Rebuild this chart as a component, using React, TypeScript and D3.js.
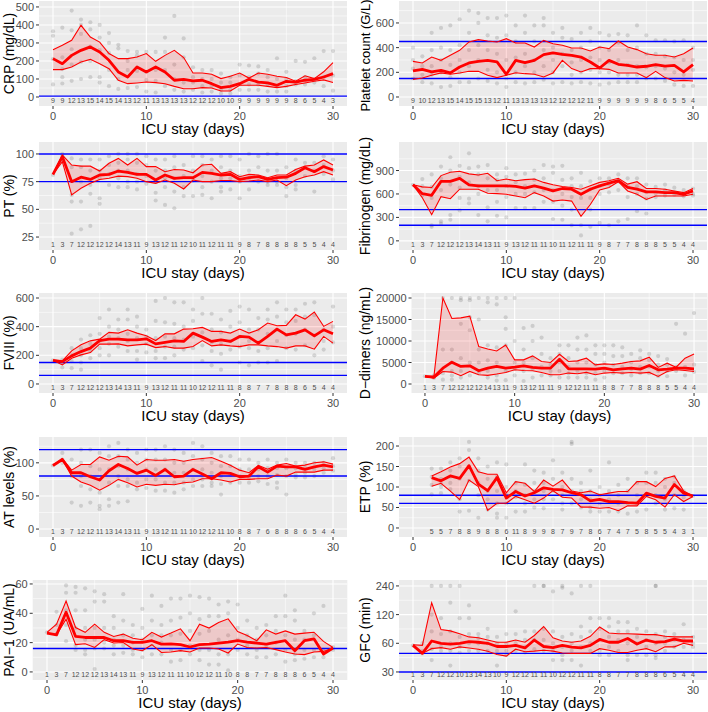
import React from 'react';
import * as d3 from 'd3';

const days = [0,1,2,3,4,5,6,7,8,9,10,11,12,13,14,15,16,17,18,19,20,21,22,23,24,25,26,27,28,29,30];
const xTicks = [0, 10, 20, 30];
const xMinor = [5, 15, 25];

// ---------- CRP ----------
const crpMedian = [213,185,231,259,278,250,204,139,111,167,139,167,139,93,98,89,93,74,52,59,74,98,83,78,65,87,83,93,98,111,130];
const crpUpper = [263,287,315,398,333,305,241,213,213,222,241,198,231,259,219,133,133,126,102,115,133,105,133,126,115,108,88,118,102,140,191];
const crpLower = [152,152,167,194,209,185,157,93,74,78,83,80,74,59,46,46,52,50,33,33,65,65,65,59,52,59,69,78,87,95,80];
const crpCounts = [9,9,12,13,15,14,15,14,13,12,11,13,13,13,13,12,12,12,10,10,9,9,9,9,9,9,8,6,5,4,3];
const crpPoints = [[365,340,210,70],[385,220,155,110,75],[480,370,265,180,90],[430,400,350,195,100],[415,375,280,200,110],[400,330,260,110,80],[355,300,245,150,60],[290,270,100,45],[255,200,150,50],[250,230,145,55],[250,140,95,30],[250,150,90,25],[330,250,150,60],[450,180,100,40],[325,220,80,30],[165,110,80,40],[150,100,60,25],[150,100,60,30],[130,80,40,20],[110,80,40,20],[180,120,70,40],[175,110,70,40],[170,130,70,40],[150,110,70,30],[215,100,60,30],[140,100,60,30],[200,90,70],[195,110,70],[215,100,80],[255,110,60],[255,120,35]];
const crpRefs = [5];
const crpTicks = [0,100,200,300,400,500];

// ---------- Platelets ----------
const pltMedian = [211,224,203,216,195,243,276,289,297,284,184,297,278,297,343,357,346,338,324,284,235,297,265,257,243,249,262,251,257,203,262];
const pltUpper = [289,276,324,297,338,378,446,465,454,446,473,438,438,405,459,432,419,397,397,373,405,392,454,405,384,351,338,338,324,351,397];
const pltLower = [143,154,176,195,184,195,208,208,176,157,176,197,189,184,162,195,297,230,203,230,230,224,195,195,195,157,208,157,130,135,130];
const pltCounts = [9,10,12,13,15,14,15,15,13,12,11,13,13,13,13,12,12,12,12,11,9,9,9,9,9,9,8,6,5,5,4];
const pltPoints = [[400,300,230,150],[330,250,180,120],[520,380,250,180,110],[560,400,300,200,80],[580,380,260,160,90],[630,420,300,200,120],[700,520,380,250,120],[680,600,420,300,150],[640,500,380,220,130],[640,480,350,200,110],[660,500,300,150,80],[580,450,320,200,120],[660,520,350,250,110],[580,450,300,200,120],[640,580,380,250,140],[520,400,300,200,110],[560,480,350,250,120],[470,380,280,180,110],[520,400,300,200,120],[560,450,320,220,110],[520,400,300,200,100],[500,380,280,200,110],[510,440,300,180,120],[500,380,260,180,120],[580,400,250,180,120],[500,350,240,150],[460,350,250,150],[460,330,230,130],[450,320,200,100],[460,300,180,90],[400,300,220,90]];
const pltRefs = [150, 450];
const pltTicks = [0,200,400,600];

// ---------- PT ----------
const ptMedian = [81.6,97.6,75,79,77,81,81.6,84.6,83.4,81.6,81.6,76.5,81,78,78.6,78.6,83.4,82.5,81,81.6,77,78.6,79.5,77,78.6,79,82.5,87.6,84,88.6,85.5];
const ptUpper = [81.6,99,90,89,89,84.6,91.6,96,90,96,88.6,88.6,84,86,85.5,83,90,90.7,82.5,84,79.5,81.6,81,78.6,81,81,86,89,90,94.6,90];
const ptLower = [81.6,93,63,69,73.5,77,78,80,79.5,78,75,73.5,76.5,73.5,68.4,76.5,75,75,76,76,75,75.6,76.5,75,76.5,71.4,76.5,79.5,81,84,81];
const ptCounts = [1,3,7,12,12,12,12,14,13,11,9,13,12,11,12,10,11,12,11,11,9,8,7,8,8,8,8,5,5,4,4];
const ptPoints = [[81],[100,98,93],[96,88,63,57,28],[95,88,75,57,32],[95,85,72,64,35],[95,85,78,60,55],[98,90,82,72],[100,92,85,78,70],[100,95,85,75,70],[100,92,82,75,68],[98,90,80,73],[95,85,75,65,58],[95,85,78,70,54],[98,88,78,66,51],[90,80,70,62],[98,85,76,62],[98,90,80,70,63],[95,85,75,60],[98,88,78,70,66],[98,85,78,68],[95,80,75,60],[100,85,78,68],[98,88,75],[100,85,75,72],[100,85,75,72],[88,78,70,62],[95,85,72,68],[92,88,80],[92,85,66],[98,90,82],[95,85,77]];
const ptRefs = [75, 100];
const ptTicks = [25,50,75,100];

// ---------- Fibrinogen ----------
const fibMedian = [717,604,583,761,761,800,717,704,704,704,704,696,674,704,674,639,670,661,596,661,704,739,770,683,661,626,626,617,617,596,639];
const fibUpper = [717,691,683,835,878,891,857,843,865,770,791,770,783,791,748,717,696,683,661,704,748,770,800,726,757,670,670,661,639,617,670];
const fibLower = [717,552,335,565,539,661,661,661,609,604,596,574,552,617,574,509,522,509,313,465,652,683,757,639,596,530,574,574,574,574,596];
const fibCounts = [1,3,7,12,12,12,13,14,13,11,9,13,12,11,11,10,11,12,11,11,9,8,7,7,8,8,8,5,5,4,4];
const fibPoints = [[717],[790,700,580],[850,690,550,200,180],[950,800,650,250,220],[1070,900,720,330,270],[960,820,680,550,390],[1120,930,750,540,480],[950,850,700,600,330],[970,800,650,430,250],[850,780,650,500,320],[930,820,700,560,300],[850,750,600,420],[860,700,600,420],[900,780,620,420],[970,800,650,500],[950,870,650,500,280],[960,780,600,450,270],[800,700,560,400,200],[870,700,550,200,70],[760,660,550,400,180],[800,700,600,230],[800,720,620,200],[850,760,650,250],[800,700,560,280],[800,700,600,380],[720,620,540,350],[690,610,560],[720,650,580],[680,620,590],[650,600,570],[670,600,580]];
const fibRefs = [200, 400];
const fibTicks = [0,300,600,900];

// ---------- FVIII ----------
const f8Median = [165,156,196,226,250,303,313,313,308,308,315,280,290,301,297,355,327,297,308,297,332,327,285,332,383,343,355,378,336,378,350];
const f8Upper = [165,161,231,273,301,313,360,355,378,355,336,303,350,350,383,385,395,367,367,355,383,355,378,425,406,409,483,453,502,402,437];
const f8Lower = [165,133,180,203,219,278,278,280,266,273,278,254,261,250,250,261,303,266,273,266,261,273,273,266,261,250,266,266,243,332,285];
const f8Counts = [1,3,7,12,12,12,13,14,13,11,9,13,12,11,11,10,12,12,11,11,8,8,7,7,8,8,8,6,5,4,4];
const f8Points = [[165],[170,150,115],[250,200,160,110],[310,250,200,150,100],[340,280,230,180],[460,350,300,250,200],[520,400,330,280,200],[450,380,320,260],[520,450,350,300,230],[470,400,320,230,170],[380,330,280,220],[580,440,320,230,180],[600,430,330,260,180],[570,420,320,260,200],[570,400,310,240],[520,440,330,250],[600,490,360,270,160],[490,380,290,230,130],[450,360,280,210,100],[510,400,300,240],[540,430,330,260,150],[520,380,300,250,130],[460,380,290,230,150],[520,450,350,250,150],[570,470,380,300,160],[520,430,340,250],[520,440,350,240],[560,470,380,270],[570,480,340,200],[380,300,240],[540,400,290]];
const f8Refs = [60, 150];
const f8Ticks = [0,200,400,600];

// ---------- D-dimers ----------
const ddMedian = [1770,1615,3690,5080,4080,4230,3080,3690,4080,3690,3920,4230,3850,3690,3690,5770,3540,3540,3540,3460,3690,3300,3540,3690,3460,4300,3300,3460,3690,3690,3540];
const ddUpper = [1770,1770,20000,15230,15380,15770,8690,8150,7690,9080,5620,5620,6540,5230,5000,6920,5230,5380,6000,4460,4690,4540,4850,5230,5380,6230,3850,4850,3900,6000,7000];
const ddLower = [1770,1380,2920,2770,1920,2920,2150,2000,2310,2690,3300,3150,3080,2690,2150,2150,2540,2380,2690,2150,2540,2690,2540,2690,2540,2690,1770,2920,3300,3150,2920];
const ddCounts = [1,3,7,12,12,12,12,14,13,11,9,13,12,11,11,9,12,12,11,11,8,8,7,7,8,8,8,5,5,4,4];
const ddPoints = [[1800],[2000,1600,1400],[20000,8000,2500,1000],[20000,8000,5000,3000,2000,1000],[20000,19500,14000,6000,3000,1500],[20000,19500,15500,12500,5000,2000],[20000,15000,8000,5000,2500],[20000,19000,9000,5500,3000,1500],[20000,18500,8500,5000,2000,800],[20000,15500,12800,9000,3000,900],[20000,10000,5000,3500,2000],[13000,8000,5000,3000,700],[13500,10000,6000,3500,1500],[10800,7000,4000,2000],[6000,4500,3000,2000],[9000,7000,5000,3000,1500],[9000,6000,4000,2500,1500],[10800,8000,5000,3000,1500],[11300,8000,5000,2500,1500],[9000,7000,4500,2500,1000],[9000,7000,5000,3000,1500],[9000,6500,4500,2500],[8500,6500,4000,2500],[7000,5000,3500,2000],[7800,6000,4000,2500],[7000,5500,4000,2500],[6500,4500,3000,1800],[5800,4500,3000,1800],[14000,4000,3000],[11700,4000,2000],[16500,4500,2800]];
const ddRefs: number[] = [];
const ddTicks = [0,5000,10000,15000,20000];

// ---------- AT ----------
const atMedian = [96,105,85,85,79,74,88,97.5,91.4,84,89,81,90,79,80,90,83,76,85,84,79,80,94,86,95,94,94,90,94,96.5,94];
const atUpper = [96,106.6,89,97.5,97.5,109,104,110,109,96.5,105,104,104,105,102.5,105,106.6,108,102.5,96.5,89,85,96,90.4,96.5,99,95,96.5,100,101.5,98];
const atLower = [96,105,80,71,66,58.6,66,75,70,63.6,67.7,66,67.7,67,70,71,76,76,74,71,75,75,76,76,81.6,80,86,86,86,89,89];
const atCounts = [1,3,7,12,12,11,13,14,13,11,9,13,12,11,11,10,12,12,11,10,8,8,7,6,8,8,8,6,5,4,4];
const atPoints = [[96],[115,105,100],[105,80,40],[120,100,80,65,35],[120,95,80,60,40],[115,90,75,55,35,30],[125,110,90,70,45,35],[130,110,95,80,65,40],[120,105,90,75,65,42],[115,100,85,70,60],[120,105,90,75,62],[120,105,90,75,58],[125,105,90,70,58],[120,100,85,70,55],[115,100,85,70,60],[130,110,90,75,65],[125,105,90,75,65],[115,100,85,70,65],[110,95,80,68,52],[110,95,82,70],[105,90,80,70],[105,90,78,70],[100,90,80,72],[105,92,80,68],[100,92,82,70,62],[105,92,80,52],[100,92,82,78],[100,92,85,78],[100,90,80],[100,92,85],[107,95,88]];
const atRefs = [80, 120];
const atTicks = [0,50,100];

// ---------- ETP ----------
const etpMedian = [null,null,123,115,127,121,152,107,91,123,73,89,78,86,98,94,93,86,81,66,70,64.5,64.5,62,60.5,85,77,73,106,85,78];
const etpUpper = [null,null,127,137,149,157,173,137,131,131,86,113,109,89,117,102,117,90,86,90,81,85,89,89,113,113,101,121,127,90,78];
const etpLower = [null,null,102,109,90,69,117,101,43,60.5,60.5,77,69,60.5,73,91,75,73,51,51,48,50,42,54,54,77,69,51,81,64.5,77];
const etpCounts = [null,null,5,5,7,8,8,9,8,8,6,11,8,9,9,8,7,9,7,8,6,7,4,7,5,8,5,5,4,3,1];
const etpPoints = [[],[],[145,125,105,82],[145,120,108,100,85],[160,140,125,110,95],[170,150,120,70,40],[210,190,150,115,42],[170,140,110,80,25],[150,120,90,70,45],[160,125,90,60,35,25],[155,100,80,60,25],[110,90,75,40],[155,105,80,60,40],[140,110,90,70,50],[135,110,90,70,48],[165,120,90,70],[135,100,80,60,45],[210,205,120,90,60],[110,90,70,50],[140,90,70,50,40],[100,80,60,40],[160,90,70,40],[105,80,60,40],[120,90,60,35],[110,80,60,40],[135,110,80,45],[135,110,80,60],[120,100,70,45],[125,110,80,48],[90,75,45],[78]];
const etpRefs = [60, 80];
const etpTicks = [0,50,100,150,200];

// ---------- PAI-1 ----------
const paiMedian = [26.5,25.3,40.7,24.2,23.5,23.5,23.5,21.3,21.3,20.1,20.1,21.3,19,19.2,18.6,17,18.6,19,19.7,20.4,21.3,20.4,19.7,19,20.1,21.3,14.5,21.3,22.6,12.2,16.3];
const paiUpper = [27,32.6,48.4,30.3,27,32.6,27,24.2,25.8,23,22,27,23.8,26.5,29.4,21.3,32.6,29.9,33.7,36.2,27.6,24.9,21.3,28.7,25.8,28,25.8,26.5,27.1,20.8,16.7];
const paiLower = [26.5,25.3,36,18.6,19.2,16.7,22,19.7,20.1,15.6,14.5,18.6,13.3,13.6,14.5,13.6,16.3,16.3,15.6,12.9,19,16.7,16.3,16.7,15.2,13.6,12.2,11.8,13.6,14,16.3];
const paiCounts = [1,3,7,12,12,12,13,14,13,11,9,13,12,11,11,10,12,12,11,10,8,8,7,7,8,8,8,6,5,4,4];
const paiPoints = [[27],[41,32,26],[59,54,42,32,21],[58,54,42,30,18,15],[57,42,30,22,15,12],[55,48,30,22,16,2],[53,48,30,20,16],[38,30,22,18,12],[53,35,25,18,13],[32,25,20,15,12],[43,30,22,15,10],[52,35,25,18,12],[45,32,25,20,12],[50,35,25,15,7],[50,37,26,15,8],[52,40,28,18,12],[51,36,26,15,8],[50,38,28,15,5],[46,38,22,12,5],[48,40,25,12,1],[46,30,22,15],[35,25,18,12],[30,22,15,10],[32,25,18,10],[38,28,20,12],[52,38,25,15,7],[42,35,22,12,8],[28,22,15,9],[40,25,15,10],[45,15,10],[17,15]];
const paiRefs = [16];
const paiTicks = [0,20,40,60];

// ---------- GFC ----------
const gfcMedian = [57,47,63.4,60,58.9,60,62.5,61.5,60,55.5,55.5,57,53.6,64.9,55.5,54,57,54.8,53.6,57,65.8,61.5,61.5,67.4,58.9,64.9,61.5,62.5,66.3,63.4,63.4];
const gfcUpper = [58,57,160,83.5,81,75.5,70,68.5,65,61.5,61.5,65,61.5,72.4,90,68.5,63.4,61.5,63.4,71,89,77,75.5,75.5,74.8,74,74,71,70,70,70];
const gfcLower = [57,47,52.7,54,52,55,53.6,52,49.6,45.8,44,52,48.9,49.6,50.7,49.6,47.5,47,47,47,52.7,50.7,48,48,50.7,52.7,48.9,55,55,60,57];
const gfcCounts = [1,3,7,12,12,10,13,14,13,10,9,12,12,11,11,10,12,12,11,11,8,8,7,7,8,8,8,6,5,4,4];
const gfcPoints = [[57],[60,50,47],[240,120,80,52,40],[240,110,75,55,50],[240,160,80,60,50,35],[240,110,70,55,48],[150,110,75,60,50],[75,68,60,50],[85,70,60,50],[70,60,50,35],[75,60,50,45],[130,75,60,50],[80,65,55,48],[240,80,65,52],[240,240,85,65,50],[210,80,60,50,40],[230,240,70,55,45,40],[200,75,60,50,40],[240,90,70,55,35],[240,110,80,60,50],[110,85,65,50,45],[110,90,70,55,45],[100,80,65,50],[100,80,60,45,40],[85,70,60,45],[80,65,55,45],[240,240,75,60,45,42],[80,70,60,50],[75,65,55],[95,65,55],[70,60,55]];
const gfcRefs = [30, 47];
const gfcTicks = [30,60,120,240];

type Cfg = {
  title: string; median: (number|null)[]; upper: (number|null)[]; lower: (number|null)[];
  counts: (number|null)[]; points: number[][]; refs: number[]; ticks: number[];
  yDomain: [number, number]; log?: boolean;
  left: number; right: number; top: number; bottom: number; titleX: number;
  titleSize?: number; titleY?: number;
};

const L = { left: 39, right: 347 };
const R = { left: 399, right: 707 };

const panels: Cfg[] = [
  { title: 'CRP (mg/dL)', median: crpMedian, upper: crpUpper, lower: crpLower, counts: crpCounts, points: crpPoints, refs: crpRefs, ticks: crpTicks, yDomain: [-50, 533], ...L, top: 1, bottom: 106, titleX: 9 },
  { title: 'Platelet count (G/L)', median: pltMedian, upper: pltUpper, lower: pltLower, counts: pltCounts, points: pltPoints, refs: pltRefs, ticks: pltTicks, yDomain: [-73, 778], ...R, top: 1, bottom: 106, titleX: 365, titleSize: 13, titleY: 55.5 },
  { title: 'PT (%)', median: ptMedian, upper: ptUpper, lower: ptLower, counts: ptCounts, points: ptPoints, refs: ptRefs, ticks: ptTicks, yDomain: [13.3, 110.8], ...L, top: 142, bottom: 250, titleX: 9 },
  { title: 'Fibrinogen (mg/dL)', median: fibMedian, upper: fibUpper, lower: fibLower, counts: fibCounts, points: fibPoints, refs: fibRefs, ticks: fibTicks, yDomain: [-117, 1265], ...R, top: 142, bottom: 250, titleX: 365 },
  { title: 'FVIII (%)', median: f8Median, upper: f8Upper, lower: f8Lower, counts: f8Counts, points: f8Points, refs: f8Refs, ticks: f8Ticks, yDomain: [-63, 635], ...L, top: 293, bottom: 393, titleX: 9 },
  { title: 'D\u2212dimers (ng/mL)', median: ddMedian, upper: ddUpper, lower: ddLower, counts: ddCounts, points: ddPoints, refs: ddRefs, ticks: ddTicks, yDomain: [-2093, 21163], left: 411.5, right: 707.5, top: 293, bottom: 393, titleX: 365 },
  { title: 'AT levels (%)', median: atMedian, upper: atUpper, lower: atLower, counts: atCounts, points: atPoints, refs: atRefs, ticks: atTicks, yDomain: [-12, 139], ...L, top: 437, bottom: 537, titleX: 9 },
  { title: 'ETP (%)', median: etpMedian, upper: etpUpper, lower: etpLower, counts: etpCounts, points: etpPoints, refs: etpRefs, ticks: etpTicks, yDomain: [-22, 222], ...R, top: 437, bottom: 537, titleX: 365 },
  { title: 'PAI\u22121 (UA/mL)', median: paiMedian, upper: paiUpper, lower: paiLower, counts: paiCounts, points: paiPoints, refs: paiRefs, ticks: paiTicks, yDomain: [-5.5, 62.7], left: 32.7, right: 347.3, top: 580, bottom: 680, titleX: 9 },
  { title: 'GFC (min)', median: gfcMedian, upper: gfcUpper, lower: gfcLower, counts: gfcCounts, points: gfcPoints, refs: gfcRefs, ticks: gfcTicks, yDomain: [24.7, 277], log: true, ...R, top: 580, bottom: 680, titleX: 365 },
];

const FONT = '"Liberation Sans", Arial, Helvetica, sans-serif';

function Panel({ cfg, idx }: { cfg: Cfg; idx: number }) {
  const x = d3.scaleLinear().domain([-1.5, 31.5]).range([cfg.left, cfg.right]);
  const y: any = cfg.log
    ? d3.scaleLog().base(2).domain(cfg.yDomain).range([cfg.bottom, cfg.top])
    : d3.scaleLinear().domain(cfg.yDomain).range([cfg.bottom, cfg.top]);
  const t = cfg.ticks;
  const minor: number[] = [];
  if (cfg.log) {
    const cand = [t[0] / Math.SQRT2, ...t.map(v => v * Math.SQRT2)];
    cand.forEach(v => { if (v > cfg.yDomain[0] && v < cfg.yDomain[1]) minor.push(v); });
  } else {
    const step = t[1] - t[0];
    const cand = [t[0] - step / 2, ...t.map(v => v + step / 2)];
    cand.forEach(v => { if (v > cfg.yDomain[0] && v < cfg.yDomain[1]) minor.push(v); });
  }
  const line = d3.line<number | null>().defined(v => v != null).x((_, i) => x(days[i])).y(v => y(v as number));
  const area = d3.area<number>()
    .defined(i => cfg.lower[i] != null && cfg.upper[i] != null)
    .x(i => x(days[i]))
    .y0(i => y(cfg.lower[i] as number))
    .y1(i => y(cfg.upper[i] as number));
  const clipId = `clip${idx}`;
  const w = cfg.right - cfg.left, h = cfg.bottom - cfg.top;
  const midY = cfg.titleY ?? (cfg.top + cfg.bottom) / 2;
  const midX = (cfg.left + cfg.right) / 2;
  return (
    <g>
      <defs>
        <clipPath id={clipId}><rect x={cfg.left} y={cfg.top} width={w} height={h} /></clipPath>
      </defs>
      <rect x={cfg.left} y={cfg.top} width={w} height={h} fill="#EBEBEB" />
      <g clipPath={`url(#${clipId})`}>
        {minor.map(v => <line key={'my' + v} x1={cfg.left} x2={cfg.right} y1={y(v)} y2={y(v)} stroke="#fff" strokeWidth={0.55} />)}
        {xMinor.map(v => <line key={'mx' + v} x1={x(v)} x2={x(v)} y1={cfg.top} y2={cfg.bottom} stroke="#fff" strokeWidth={0.55} />)}
        {t.map(v => <line key={'gy' + v} x1={cfg.left} x2={cfg.right} y1={y(v)} y2={y(v)} stroke="#fff" strokeWidth={1.1} />)}
        {xTicks.map(v => <line key={'gx' + v} x1={x(v)} x2={x(v)} y1={cfg.top} y2={cfg.bottom} stroke="#fff" strokeWidth={1.1} />)}
        {cfg.points.map((arr, i) => arr.map((v, j) => (
          <circle key={`p${i}-${j}`} cx={x(days[i])} cy={y(v)} r={2.1} fill="#000" fillOpacity={0.13} />
        )))}
        <path d={area(days) || ''} fill="#FF0000" fillOpacity={0.14} />
        {cfg.refs.map(v => <line key={'r' + v} x1={cfg.left} x2={cfg.right} y1={y(v)} y2={y(v)} stroke="#0000FF" strokeWidth={1.4} />)}
        <path d={line(cfg.upper) || ''} fill="none" stroke="#FF0000" strokeWidth={1.1} />
        <path d={line(cfg.lower) || ''} fill="none" stroke="#FF0000" strokeWidth={1.1} />
        <path d={line(cfg.median) || ''} fill="none" stroke="#FF0000" strokeWidth={2.8} strokeLinejoin="round" />
        {cfg.counts.map((c, i) => c == null ? null : (
          <text key={'c' + i} x={x(days[i])} y={cfg.bottom - 6} fontSize={7} fill="#4D4D4D" textAnchor="middle" dominantBaseline="central" fontFamily={FONT}>{c}</text>
        ))}
      </g>
      {t.map(v => (
        <g key={'yt' + v}>
          <line x1={cfg.left - 3} x2={cfg.left} y1={y(v)} y2={y(v)} stroke="#333" strokeWidth={1} />
          <text x={cfg.left - 5} y={y(v)} fontSize={11} fill="#4D4D4D" textAnchor="end" dominantBaseline="central" fontFamily={FONT}>{v}</text>
        </g>
      ))}
      {xTicks.map(v => (
        <g key={'xt' + v}>
          <line x1={x(v)} x2={x(v)} y1={cfg.bottom} y2={cfg.bottom + 3} stroke="#333" strokeWidth={1} />
          <text x={x(v)} y={cfg.bottom + 9.5} fontSize={11} fill="#4D4D4D" textAnchor="middle" dominantBaseline="central" fontFamily={FONT}>{v}</text>
        </g>
      ))}
      <text x={midX} y={cfg.bottom + 22.5} fontSize={15} fill="#000" textAnchor="middle" dominantBaseline="central" fontFamily={FONT}>ICU stay (days)</text>
      <text x={cfg.titleX} y={midY} fontSize={cfg.titleSize ?? 14} fill="#000" textAnchor="middle" dominantBaseline="central" fontFamily={FONT} transform={`rotate(-90, ${cfg.titleX}, ${midY})`}>{cfg.title}</text>
    </g>
  );
}

export default function App() {
  return (
    <svg width={708} height={712} style={{ position: 'absolute', left: 0, top: 0, background: '#fff' }}>
      <rect x={0} y={0} width={708} height={712} fill="#fff" />
      {panels.map((p, i) => <Panel key={i} cfg={p} idx={i} />)}
    </svg>
  );
}
